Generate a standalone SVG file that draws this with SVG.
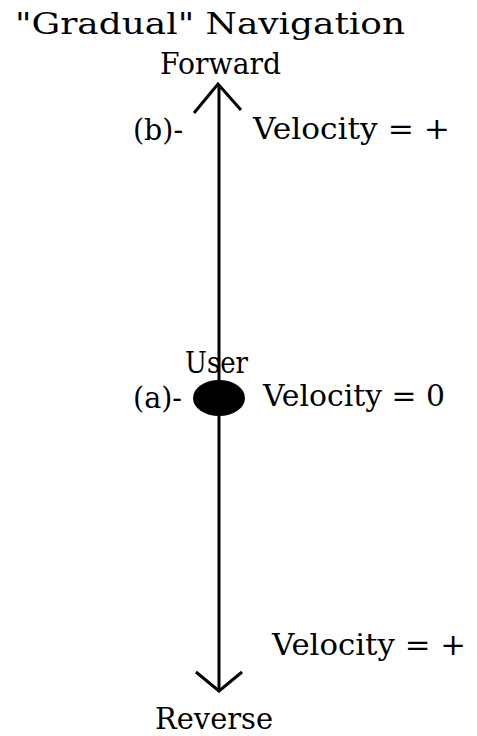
<svg xmlns="http://www.w3.org/2000/svg" width="477" height="736" viewBox="0 0 477 736">
<style>
text{font-family:"DejaVu Serif","Liberation Serif",serif;fill:#000;font-size:29px}
.ln{stroke:#000;stroke-width:3;fill:none}
</style>
<rect width="477" height="736" fill="#fff"/>
<text id="title" x="15" y="34" font-size="33" textLength="390" lengthAdjust="spacingAndGlyphs">"Gradual" Navigation</text>
<g id="connectors">
<line class="ln" x1="219" y1="85" x2="219" y2="690"/>
<polyline class="ln" points="194,113 218,84 241,110"/>
<polyline class="ln" points="196,672 219,691 242,672"/>
</g>
<g id="forward"><text x="160" y="74" textLength="121" lengthAdjust="spacingAndGlyphs">Forward</text></g>
<g id="b"><text x="133" y="140" textLength="50" lengthAdjust="spacingAndGlyphs">(b)-</text>
<text x="253" y="139" textLength="197" lengthAdjust="spacingAndGlyphs">Velocity = +</text></g>
<g id="user">
<ellipse cx="219" cy="398" rx="26" ry="18" fill="#000"/>
<text x="185" y="373" textLength="63" lengthAdjust="spacingAndGlyphs">User</text>
<text x="133" y="408" textLength="49" lengthAdjust="spacingAndGlyphs">(a)-</text>
<text x="263" y="406" textLength="182" lengthAdjust="spacingAndGlyphs">Velocity = 0</text>
</g>
<g id="reverse">
<text x="272" y="655" textLength="194" lengthAdjust="spacingAndGlyphs">Velocity =  +</text>
<text x="155" y="729" textLength="118" lengthAdjust="spacingAndGlyphs">Reverse</text>
</g>
</svg>
